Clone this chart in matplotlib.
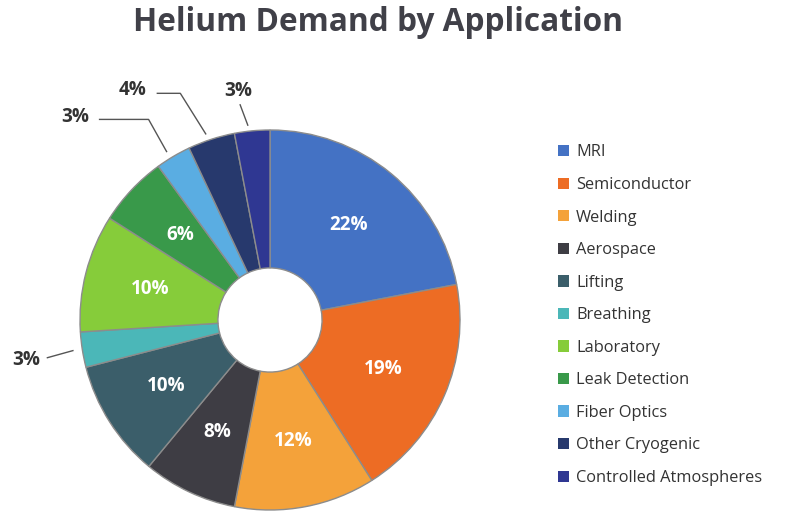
import numpy as np
import matplotlib.pyplot as plt
from matplotlib.patches import Patch

plt.rcParams['font.family'] = ['Open Sans', 'DejaVu Sans']

categories = ['MRI', 'Semiconductor', 'Welding', 'Aerospace', 'Lifting', 'Breathing',
              'Laboratory', 'Leak Detection', 'Fiber Optics', 'Other Cryogenic',
              'Controlled Atmospheres']
shares = [22, 19, 12, 8, 10, 3, 10, 6, 3, 4, 3]
colors = ['#4472c4', '#ed6c24', '#f4a23a', '#3e3d44', '#3b5e6a', '#4bb7b8',
          '#86cc3a', '#39994a', '#5aade2', '#27396d', '#2f3792']

# outside labels: index -> (elbow dx, elbow dy from wedge edge, horizontal run), radius units
outside = {5: (-0.184, -0.042, 0.0), 8: (-0.13, 0.195, -0.258),
           9: (-0.163, 0.242, -0.121), 10: (-0.063, 0.137, 0.0)}

fig = plt.figure(figsize=(8, 5.25), dpi=100)
R_PX = 190
LIM = 1.5
cx, cy = 270, 320
half = R_PX * LIM
ax = fig.add_axes([(cx - half) / 800, (525 - cy - half) / 525, 2 * half / 800, 2 * half / 525])

wedges, _ = ax.pie(shares, colors=colors, startangle=90, counterclock=False, radius=1,
                   wedgeprops=dict(width=0.726, edgecolor='#8c8c8c', linewidth=1))
ax.set_xlim(-LIM, LIM)
ax.set_ylim(-LIM, LIM)
ax.set_aspect('equal')
ax.axis('off')

for i, w in enumerate(wedges):
    ang = np.deg2rad((w.theta1 + w.theta2) / 2)
    dx, dy = np.cos(ang), np.sin(ang)
    label = '{}%'.format(shares[i])
    if i in outside:
        ex, ey, run = outside[i]
        x0, y0 = 1.03 * dx, 1.03 * dy
        x1, y1 = dx + ex, dy + ey
        x2 = x1 + run
        ax.plot([x0 + 0.02 * np.sign(ex), x1, x2], [y0, y1, y1], color='#555555', lw=1)
        if run != 0:
            ax.text(x2 - 0.055, y1 + 0.015, label, ha='right', va='center', fontsize=13.6,
                    fontweight='bold', color='#333333')
        elif ey < 0:
            ax.text(x1 - 0.035, y1 - 0.01, label, ha='right', va='center', fontsize=13.6,
                    fontweight='bold', color='#333333')
        else:
            ax.text(x1 - 0.01, y1 + 0.075, label, ha='center', va='center', fontsize=13.6,
                    fontweight='bold', color='#333333')
    else:
        r = 0.65
        ax.text(r * dx, r * dy, label, ha='center', va='center', fontsize=13.6,
                fontweight='bold', color='white')

fig.text(0.4725, 0.958, 'Helium Demand by Application', ha='center', va='center',
         fontsize=22.75, fontweight='bold', color='#404048')

handles = [Patch(facecolor=c, edgecolor='none') for c in colors]
fig.legend(handles, categories, loc='upper left', bbox_to_anchor=(0.679, 0.753),
           frameon=False, fontsize=11.8, handlelength=0.68, handleheight=0.68,
           handletextpad=0.43, labelspacing=1.01, labelcolor='#333333')

fig.savefig('out.png', dpi=100)
